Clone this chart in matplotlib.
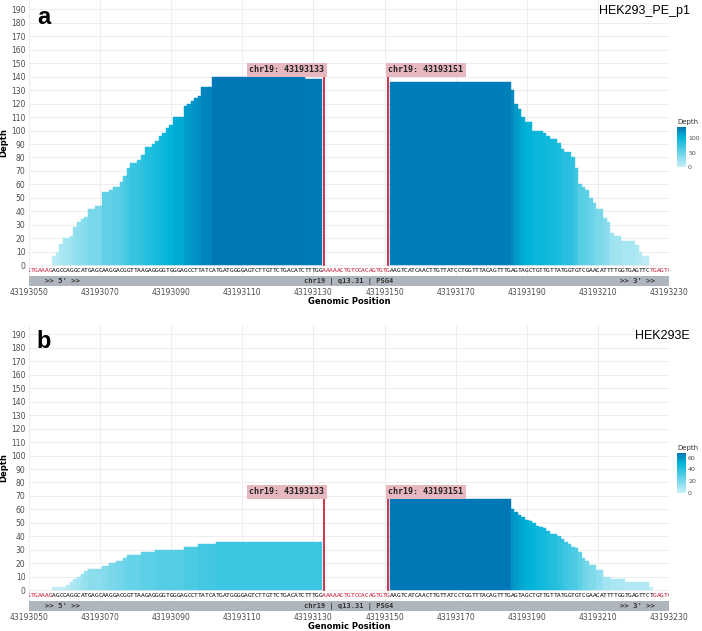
import numpy as np
import matplotlib.pyplot as plt
from matplotlib.colors import LinearSegmentedColormap, Normalize
from matplotlib.colorbar import ColorbarBase

# --- data -------------------------------------------------------------
x_ticks = [43193050, 43193070, 43193090, 43193110, 43193130,
           43193150, 43193170, 43193190, 43193210, 43193230]
y_ticks = list(range(0, 200, 10))

# reference sequence, one base per position from 43193050 to 43193230
seq = ("GTGAAAG"
       "AGCCAGGCATGAGCAAGGACGGTTAAGAGGGGTGGGAGCCTTATCATGATGGGGAGTCTTGTTCTGACATCTTTGG"
       "AAAAACTGTCCACAGTGTG"
       "AAGTCATCAACTTGTTATCCTGGTTTACAGTTTGAGTAGCTGTTGTTATGGTGTCGAACATTTTGGTGAGTTC"
       "TGAGTC")
seq_start = 43193050

cut_left = 43193133
cut_right = 43193151

# panel a: HEK293_PE_p1
a_left_start = 43193057
a_left_depth = [7, 10, 16, 20, 20, 22, 28, 32, 34, 36, 42, 42, 44, 44, 54,
                54, 56, 58, 58, 62, 66, 72, 76, 76, 78, 82, 88, 88, 90, 92,
                96, 98, 102, 104, 110, 110, 110, 118, 120, 122, 124, 126, 132, 132, 132,
                140, 140, 140, 140, 140, 140, 140, 140, 140, 140, 140, 140, 140,
                140, 140, 140, 140, 140, 140, 140, 140, 140, 140, 140, 140, 140,
                138, 138, 138, 138, 138]
a_right_start = 43193152
a_right_depth = [136, 136, 136, 136, 136, 136, 136, 136, 136, 136, 136, 136,
                 136, 136, 136, 136, 136, 136, 136, 136, 136, 136, 136, 136,
                 136, 136, 136, 136, 136, 136, 136, 136, 136, 136,
                 130, 120, 116, 110, 106, 106, 100, 100, 100, 98, 96, 94, 94,
                 91, 86, 84, 84, 80, 72, 60, 58, 56, 50, 46, 42, 42, 35, 32,
                 24, 22, 22, 18, 18, 18, 18, 15, 10, 7, 7]

# panel b: HEK293E
b_left_start = 43193057
b_left_depth = [2, 2, 2, 2, 4, 6, 8, 10, 12, 14, 16, 16, 16, 16, 18, 18, 20,
                20, 22, 22, 24, 26, 26, 26, 26, 28, 28, 28, 28, 30, 30, 30,
                30, 30, 30, 30, 30, 32, 32, 32, 32, 34, 34, 34, 34, 34,
                36, 36, 36, 36, 36, 36, 36, 36, 36, 36, 36, 36, 36, 36, 36,
                36, 36, 36, 36, 36, 36, 36, 36, 36, 36, 36, 36, 36, 36, 36]
b_right_start = 43193152
b_right_depth = [68, 68, 68, 68, 68, 68, 68, 68, 68, 68, 68, 68, 68, 68, 68,
                 68, 68, 68, 68, 68, 68, 68, 68, 68, 68, 68, 68, 68, 68, 68,
                 68, 68, 68, 68,
                 60, 58, 56, 54, 52, 51, 50, 48, 47, 46, 44, 42, 42, 40, 38,
                 36, 34, 32, 31, 28, 24, 22, 19, 19, 15, 15, 10, 10, 8, 8, 8,
                 8, 6, 6, 6, 6, 6, 6, 6, 2]

panels = [
    ("a", "HEK293_PE_p1", a_left_start, a_left_depth, a_right_start, a_right_depth, [0, 50, 100]),
    ("b", "HEK293E", b_left_start, b_left_depth, b_right_start, b_right_depth, [0, 20, 40, 60]),
]

# --- style ------------------------------------------------------------
cmap = LinearSegmentedColormap.from_list(
    "depth", [(0.0, "#caf0f8"), (0.75, "#00b4d8"), (1.0, "#0077b6")])
red = "#c8102e"
band_color = "#aeb5bc"
W, H = 702, 631

fig = plt.figure(figsize=(W / 100, H / 100), dpi=100)

axes_top_px = [0, 325]
cbar_top_px = [127, 453]

for i, (tag, title, ls, ld, rs, rd, cticks) in enumerate(panels):
    top = axes_top_px[i]
    ax = fig.add_axes([29 / W, 1 - (top + 286) / H, 640 / W, 286 / H])

    left_pos = np.arange(ls, ls + len(ld))
    right_pos = np.arange(rs, rs + len(rd))
    pos = np.concatenate([left_pos, right_pos])
    depth = np.concatenate([ld, rd]).astype(float)
    vmax = depth.max()
    norm = Normalize(0, vmax)
    cols = cmap(norm(depth))
    ax.bar(pos, depth, width=1.0, color=cols, edgecolor=cols, linewidth=0.3, zorder=2)

    ax.set_xlim(x_ticks[0], x_ticks[-1])
    ax.set_ylim(-15.5, 197)
    ax.set_xticks(x_ticks)
    ax.set_xticklabels([str(t) for t in x_ticks])
    ax.set_yticks(y_ticks)
    ax.tick_params(length=0, labelsize=5.5, labelcolor="#4d4d4d")
    ax.tick_params(axis="x", pad=1.5)
    ax.tick_params(axis="y", pad=2.5)
    for s in ax.spines.values():
        s.set_visible(False)
    ax.grid(color="#ebebeb", linewidth=0.6, zorder=0)
    ax.set_axisbelow(True)
    ax.set_xlabel("Genomic Position", fontsize=6, fontweight="bold", labelpad=0)
    ax.set_ylabel("Depth", fontsize=6, fontweight="bold", labelpad=2)

    # sequence track: red where there is no coverage
    covered = set(pos.tolist())
    for k, base in enumerate(seq):
        p = seq_start + k
        ax.text(p, -3.7, base, fontsize=4.5, family="DejaVu Sans Mono",
                color="black" if p in covered else red,
                ha="center", va="center", clip_on=True, zorder=3)

    # chromosome band
    ax.axhspan(-15.5, -8.3, color=band_color, zorder=3, linewidth=0)
    band_y = -11.9
    ax.text(43193054.5, band_y, ">> 5' >>", fontsize=5.2, family="DejaVu Sans Mono",
            fontweight="bold", color="#333333", ha="left", va="center", zorder=4)
    ax.text((x_ticks[0] + x_ticks[-1]) / 2, band_y, "chr19 | q13.31 | PSG4", fontsize=5.0,
            family="DejaVu Sans Mono", fontweight="bold", color="#333333",
            ha="center", va="center", zorder=4)
    ax.text(43193226, band_y, ">> 3' >>", fontsize=5.2, family="DejaVu Sans Mono",
            fontweight="bold", color="#333333", ha="right", va="center", zorder=4)

    # cut site markers
    label_y = vmax + 5
    for cx, ha in [(cut_left, "right"), (cut_right, "left")]:
        ax.plot([cx, cx], [0, label_y - 3.5], color=red, linewidth=1.2, zorder=4)
        ax.text(cx, label_y, f"chr19: {cx}", fontsize=6, family="DejaVu Sans Mono",
                fontweight="bold", color="#222222", ha=ha, va="center", zorder=5,
                bbox=dict(boxstyle="square,pad=0.3", facecolor="#e8b8c0",
                          edgecolor="none"))

    # panel tag and sample title
    fig.text(44 / W, 1 - (top + 17) / H, tag, fontsize=17, fontweight="bold",
             family="Liberation Sans", ha="center", va="center")
    fig.text(690 / W, 1 - (top + 11) / H, title, fontsize=9,
             family="Liberation Sans", ha="right", va="center")

    # colour legend
    ctop = cbar_top_px[i]
    cax = fig.add_axes([677 / W, 1 - (ctop + 40) / H, 9 / W, 40 / H])
    cb = ColorbarBase(cax, cmap=cmap, norm=norm, orientation="vertical")
    cb.outline.set_visible(False)
    cb.set_ticks(cticks)
    cax.tick_params(length=0, labelsize=4.5, labelcolor="#4d4d4d", pad=1.5)
    cax.set_title("Depth", fontsize=5, loc="left", pad=2.5, color="#333333")

fig.savefig("out.png", dpi=100)
